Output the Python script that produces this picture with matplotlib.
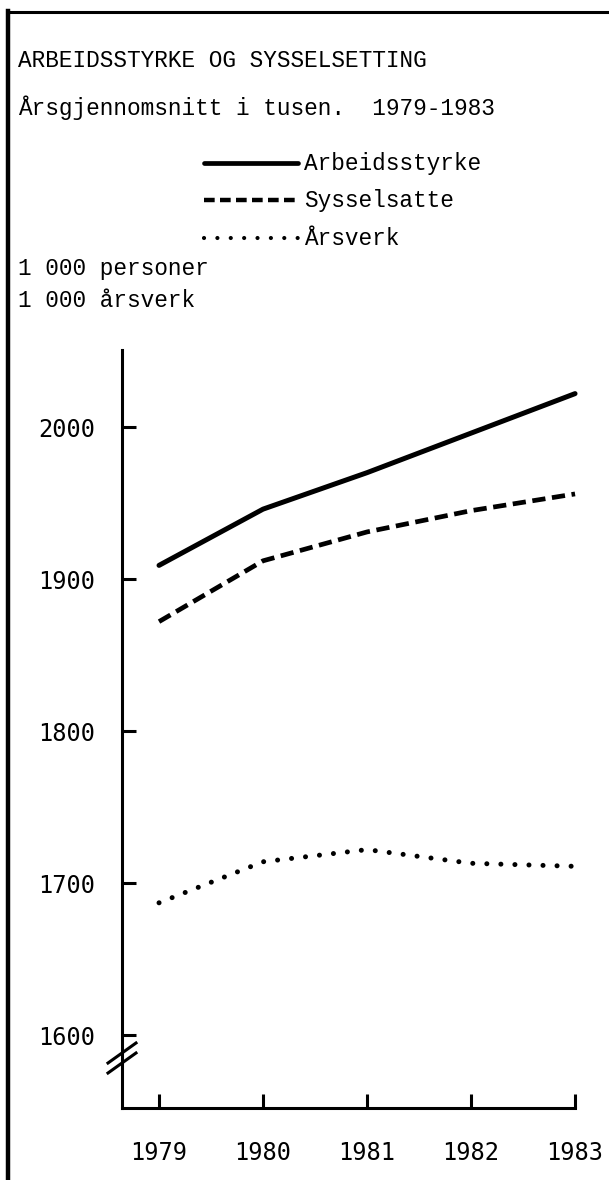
import matplotlib
matplotlib.use("Agg")
import matplotlib.pyplot as plt
from matplotlib.lines import Line2D

years = [1979, 1980, 1981, 1982, 1983]
arbeidsstyrke = [1909, 1946, 1970, 1996, 2022]
sysselsatte = [1872, 1912, 1931, 1945, 1956]
arsverk = [1687, 1714, 1722, 1713, 1711]
yticks = [1600, 1700, 1800, 1900, 2000]

W, H = 609, 1180
fig = plt.figure(figsize=(W / 100, H / 100), dpi=100)

def fx(x):
    return x / W

def fy(y):
    return 1 - y / H

serif = "Liberation Mono"
mono = "DejaVu Sans Mono"

# axes placed in pixel terms
ax = fig.add_axes([fx(122), fy(1108), fx(592) - fx(122), fy(350) - fy(1108)])
ax.set_xlim(1978.644, 1983.163)
ax.set_ylim(1552, 2050.7)

ax.plot(years, arbeidsstyrke, color="black", lw=3.6, solid_capstyle="round", clip_on=False)
ax.plot(years, sysselsatte, color="black", lw=3.4, linestyle=(0, (2.8, 1.4)),
        dash_capstyle="butt", clip_on=False)
ax.plot(years, arsverk, color="black", lw=3.6, linestyle=(0, (0.01, 2.8)),
        dash_capstyle="round", clip_on=False)

for s in ["top", "right"]:
    ax.spines[s].set_visible(False)
ax.spines["left"].set_linewidth(2.2)
ax.spines["bottom"].set_linewidth(2.2)
ax.spines["bottom"].set_bounds(1978.644, 1983)

ax.set_xticks(years)
ax.set_xticklabels([str(y) for y in years], family=mono, fontsize=17)
ax.set_yticks(yticks)
ax.set_yticklabels([str(v) for v in yticks], family=mono, fontsize=17)
ax.tick_params(axis="y", direction="in", length=10, width=2.2, pad=19)
ax.tick_params(axis="x", direction="in", length=10, width=2.2, pad=24)

# axis break marks
for dy in (0, 10):
    fig.add_artist(Line2D([fx(108), fx(136)], [fy(1063 + dy), fy(1043 + dy)],
                          color="black", lw=2.2))

# outer frame
fig.add_artist(Line2D([fx(8), fx(609)], [fy(12), fy(12)], color="black", lw=2.2))
fig.add_artist(Line2D([fx(8), fx(8)], [fy(11), fy(1180)], color="black", lw=3.2))

# texts
fig.text(fx(18), fy(67), "ARBEIDSSTYRKE OG SYSSELSETTING", family=serif,
         fontsize=16.4, va="baseline")
fig.text(fx(18), fy(115), "Årsgjennomsnitt i tusen.  1979-1983", family=serif,
         fontsize=16.4, va="baseline")
fig.text(fx(18), fy(275), "1 000 personer", family=serif, fontsize=16.4, va="baseline")
fig.text(fx(18), fy(307), "1 000 årsverk", family=serif, fontsize=16.4, va="baseline")

# legend
legend_items = [
    ("Arbeidsstyrke", dict(lw=3.4, solid_capstyle="round"), 170),
    ("Sysselsatte", dict(lw=3.2, linestyle=(0, (2.4, 1.2)), dash_capstyle="butt"), 207),
    ("Årsverk", dict(lw=3.0, linestyle=(0, (0.01, 3.2)), dash_capstyle="round"), 245),
]
for label, style, base in legend_items:
    fig.add_artist(Line2D([fx(204), fx(298)], [fy(base - 7), fy(base - 7)],
                          color="black", **style))
    fig.text(fx(304), fy(base), label, family=serif, fontsize=16.4, va="baseline")

fig.savefig("out.png", dpi=100)
